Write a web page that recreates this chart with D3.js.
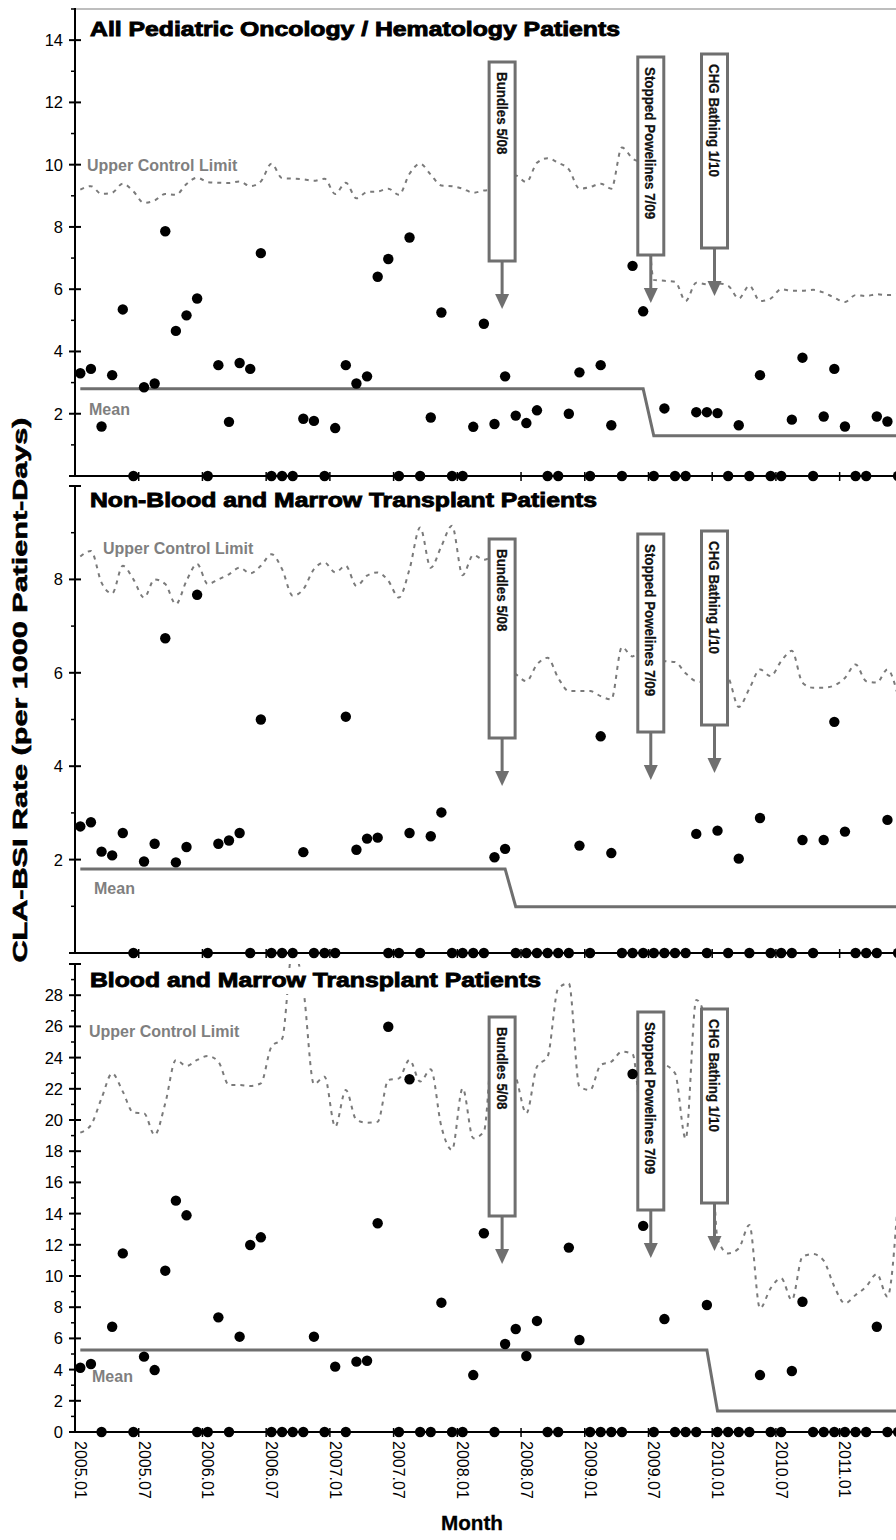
<!DOCTYPE html>
<html><head><meta charset="utf-8">
<script src="https://cdn.jsdelivr.net/npm/d3@7"></script>
<style>body{margin:0;background:#fff;overflow:hidden}svg{display:block}</style>
</head><body><svg id="c" width="896" height="1540"></svg>
<script>
const months = [
"2005.01","2005.02","2005.03","2005.04","2005.05","2005.06","2005.07","2005.08","2005.09","2005.10","2005.11","2005.12",
"2006.01","2006.02","2006.03","2006.04","2006.05","2006.06","2006.07","2006.08","2006.09","2006.10","2006.11","2006.12",
"2007.01","2007.02","2007.03","2007.04","2007.05","2007.06","2007.07","2007.08","2007.09","2007.10","2007.11","2007.12",
"2008.01","2008.02","2008.03","2008.04","2008.05","2008.06","2008.07","2008.08","2008.09","2008.10","2008.11","2008.12",
"2009.01","2009.02","2009.03","2009.04","2009.05","2009.06","2009.07","2009.08","2009.09","2009.10","2009.11","2009.12",
"2010.01","2010.02","2010.03","2010.04","2010.05","2010.06","2010.07","2010.08","2010.09","2010.10","2010.11","2010.12",
"2011.01","2011.02","2011.03","2011.04","2011.05","2011.06"];
const tickLabels = ["2005.01","2005.07","2006.01","2006.07","2007.01","2007.07","2008.01","2008.07","2009.01","2009.07","2010.01","2010.07","2011.01"];

// All Pediatric Oncology / Hematology
const allRate = [3.30,3.44,1.59,3.24,5.35,0,2.85,2.97,7.86,4.66,5.16,5.70,0,3.56,1.74,3.63,3.44,7.16,0,0,0,1.84,1.77,0,1.54,3.56,2.97,3.20,6.40,6.97,0,7.66,0,1.88,5.25,0,0,1.58,4.89,1.67,3.20,1.94,1.70,2.11,0,0,2.00,3.33,0,3.56,1.63,0,6.75,5.29,0,2.17,0,0,2.05,2.05,2.02,0,1.63,0,3.24,0,0,1.81,3.80,0,1.91,3.44,1.59,0,0,1.91,1.75,0];
const allUCL = [9.20,9.31,9.06,9.10,9.39,9.14,8.77,8.85,9.06,9.03,9.38,9.58,9.44,9.42,9.41,9.46,9.31,9.46,10.03,9.57,9.55,9.53,9.48,9.55,9.06,9.42,8.92,9.12,9.14,9.23,9.03,9.71,10.03,9.68,9.33,9.31,9.23,9.10,9.17,9.20,9.30,9.65,9.44,10.06,10.21,10.06,9.85,9.23,9.28,9.39,9.23,10.55,10.20,10.00,6.30,6.27,6.24,5.62,6.21,6.16,6.19,6.11,5.70,6.11,5.62,5.70,6.00,5.95,5.95,5.98,5.89,5.73,5.59,5.81,5.78,5.84,5.81,5.84];
const allMean = [{from:"2005.01",to:"2009.06",value:2.80},{from:"2009.07",to:"2011.06",value:1.29}];

// Non-Blood and Marrow Transplant
const nonRate = [2.71,2.80,2.17,2.09,2.57,0,1.96,2.34,6.74,1.94,2.27,7.67,0,2.34,2.41,2.57,0,5.00,0,0,0,2.16,0,0,0,5.06,2.21,2.45,2.47,0,0,2.57,0,2.50,3.01,0,0,0,0,2.05,2.23,0,0,0,0,0,0,2.30,0,4.64,2.14,0,0,0,0,0,0,0,2.55,0,2.62,0,2.02,0,2.89,0,0,0,2.42,0,2.42,4.95,2.60,0,0,0,2.85,0];
const nonUCL = [8.49,8.61,7.93,7.70,8.29,8.00,7.61,8.00,7.90,7.47,7.97,8.33,7.90,8.00,8.11,8.25,8.13,8.29,8.54,8.22,7.65,7.79,8.22,8.36,8.15,8.29,7.86,8.08,8.15,7.97,7.61,8.22,9.11,8.25,8.71,9.15,8.09,8.52,8.42,8.50,6.10,5.97,5.82,6.18,6.32,5.89,5.61,5.61,5.61,5.50,5.43,6.55,6.35,6.60,6.30,6.25,6.23,5.99,5.82,5.80,6.00,5.89,5.27,5.66,6.07,5.93,6.25,6.47,5.79,5.68,5.68,5.73,5.89,6.18,5.82,5.79,6.07,5.50];
const nonMean = [{from:"2005.01",to:"2008.05",value:1.80},{from:"2008.06",to:"2011.06",value:0.99}];

// Blood and Marrow Transplant
const bmtRate = [4.12,4.36,0,6.75,11.45,0,4.83,3.97,10.34,14.83,13.89,0,0,7.35,0,6.11,11.99,12.48,0,0,0,0,6.11,0,4.19,0,4.51,4.57,13.38,25.98,0,22.61,0,0,8.29,0,0,3.65,12.74,0,5.64,6.60,4.87,7.12,0,0,11.82,5.90,0,0,0,0,22.95,13.21,0,7.24,0,0,0,8.14,0,0,0,0,3.65,0,0,3.91,8.35,0,0,0,0,0,0,6.75,0,0];
const bmtUCL = [19.19,19.68,21.39,22.99,21.82,20.47,20.43,19.04,21.07,23.85,23.46,23.85,24.10,23.74,22.24,22.24,22.18,22.35,24.70,25.20,31.00,28.40,22.30,22.78,19.57,21.92,20.00,19.83,19.89,22.56,22.67,23.85,22.46,23.25,19.57,18.08,22.03,18.83,19.25,26.00,24.00,22.78,20.43,23.42,24.06,28.44,28.76,22.14,21.92,23.53,23.74,24.38,24.23,19.50,21.00,23.50,23.00,18.80,27.70,26.00,12.40,11.45,11.77,13.27,7.93,9.21,9.85,8.46,11.24,11.41,10.98,9.32,8.25,8.78,9.32,10.13,8.67,15.00];
const bmtMean = [{from:"2005.01",to:"2009.12",value:5.26},{from:"2010.01",to:"2011.06",value:1.35}];

const interventions = [
  {label:"Bundles 5/08", month:"2008.05", drop:53, len:199},
  {label:"Stopped Powelines 7/09", month:"2009.07", drop:48, len:198},
  {label:"CHG Bathing 1/10", month:"2010.01", drop:45, len:194}
];

const panels = [
  {title:"All Pediatric Oncology / Hematology Patients", rate:allRate, ucl:allUCL, mean:allMean,
   top:9, bottom:476, max:15, labels:[2,4,6,8,10,12,14], titleY:36, titleW:530,
   uclLab:[87,171], meanLab:[89,415], frame:true},
  {title:"Non-Blood and Marrow Transplant Patients", rate:nonRate, ucl:nonUCL, mean:nonMean,
   top:486, bottom:953, max:10, labels:[2,4,6,8], titleY:507, titleW:507,
   uclLab:[103,554], meanLab:[94,894], frame:false},
  {title:"Blood and Marrow Transplant Patients", rate:bmtRate, ucl:bmtUCL, mean:bmtMean,
   top:964, bottom:1432, max:30, labels:[0,2,4,6,8,10,12,14,16,18,20,22,24,26,28], titleY:987, titleW:451,
   uclLab:[89,1037], meanLab:[92,1382], frame:false}
];

const svg = d3.select("#c");
const FONT = "'Liberation Sans', Arial, Helvetica, sans-serif";
const xLeft = 75, step = 10.62;
const x = d3.scaleBand().domain(months).range([xLeft, xLeft + step*months.length]).paddingInner(0).paddingOuter(0);
const cx = m => x(m) + x.bandwidth()/2;
const GREY = "#6f6f6f";

panels.forEach((p, pi) => {
  const y = d3.scaleLinear().domain([0, p.max]).range([p.bottom, p.top]);
  const g = svg.append("g");
  const clipId = "clip" + pi;
  svg.append("clipPath").attr("id", clipId).append("rect")
    .attr("x", xLeft).attr("y", p.top).attr("width", 896 - xLeft + 20).attr("height", p.bottom - p.top);

  if (p.frame) {
    g.append("line").attr("x1", xLeft).attr("x2", 900).attr("y1", p.top).attr("y2", p.top)
      .attr("stroke", "#a8a8a8").attr("stroke-width", 1.5);
  }

  // UCL
  const uclLine = d3.line().x((d,i) => cx(months[i])).y(d => y(d)).curve(d3.curveMonotoneX);
  g.append("path").attr("d", uclLine(p.ucl)).attr("clip-path", `url(#${clipId})`)
    .attr("fill", "none").attr("stroke", "#7a7a7a").attr("stroke-width", 2).attr("stroke-dasharray", "4,5");

  // Mean
  const meanPts = [];
  p.mean.forEach(s => { meanPts.push([s.from, s.value]); meanPts.push([s.to, s.value]); });
  const meanLine = d3.line().x(d => cx(d[0])).y(d => y(d[1]));
  g.append("path").attr("d", meanLine(meanPts)).attr("fill", "none")
    .attr("stroke", GREY).attr("stroke-width", 3);

  // Y axis
  g.append("line").attr("x1", xLeft).attr("x2", xLeft).attr("y1", p.top - 1).attr("y2", p.bottom)
    .attr("stroke", "#000").attr("stroke-width", 2);
  const major = d3.range(0, p.max + 0.001, 2);
  const minor = d3.range(1, p.max + 0.001, 2);
  g.selectAll(null).data(major).enter().append("line")
    .attr("x1", xLeft - 6).attr("x2", xLeft + 6).attr("y1", d => y(d)).attr("y2", d => y(d))
    .attr("stroke", "#000").attr("stroke-width", 2);
  g.selectAll(null).data(minor).enter().append("line")
    .attr("x1", xLeft - 4).attr("x2", xLeft).attr("y1", d => y(d)).attr("y2", d => y(d))
    .attr("stroke", "#000").attr("stroke-width", 1.5);
  g.selectAll(null).data(p.labels).enter().append("text")
    .attr("x", 63).attr("y", d => y(d)).attr("text-anchor", "end").attr("dominant-baseline", "central")
    .attr("font-family", FONT).attr("font-size", 16.5).attr("fill", "#000").text(d => d);

  // X axis
  g.append("line").attr("x1", xLeft).attr("x2", 900).attr("y1", p.bottom).attr("y2", p.bottom)
    .attr("stroke", "#000").attr("stroke-width", 2);
  const tickMonths = months.filter((m, i) => i > 0 && i % 6 === 0);
  g.selectAll(null).data(tickMonths).enter().append("line")
    .attr("x1", d => x(d)).attr("x2", d => x(d)).attr("y1", p.bottom - 4).attr("y2", p.bottom + 5)
    .attr("stroke", "#000").attr("stroke-width", 1.5);

  // Interventions
  interventions.forEach(a => {
    const bx = cx(a.month) - 3;
    const bt = p.top + a.drop, bb = bt + a.len;
    const tip = bb + 48;
    g.append("line").attr("x1", bx).attr("x2", bx).attr("y1", bb).attr("y2", tip - 14)
      .attr("stroke", GREY).attr("stroke-width", 3);
    g.append("path").attr("d", `M${bx-7},${tip-15}L${bx+7},${tip-15}L${bx},${tip}Z`).attr("fill", GREY);
    g.append("rect").attr("x", bx - 13).attr("y", bt).attr("width", 26).attr("height", a.len)
      .attr("fill", "#fff").attr("stroke", GREY).attr("stroke-width", 3);
    g.append("text").attr("transform", `translate(${bx},${bt + 10}) rotate(90) scale(0.88,1)`)
      .attr("text-anchor", "start").attr("dominant-baseline", "central")
      .attr("font-family", FONT).attr("font-weight", "bold").attr("font-size", 15.2)
      .attr("stroke", "#111").attr("stroke-width", 0.25)
      .attr("fill", "#111").text(a.label);
  });

  // Title with white background
  g.append("rect").attr("x", 88).attr("y", p.titleY - 18).attr("width", p.titleW + 4).attr("height", 25).attr("fill", "#fff");
  g.append("text").attr("x", 90).attr("y", p.titleY)
    .attr("font-family", FONT).attr("font-weight", "bold").attr("font-size", 20.5)
    .attr("textLength", p.titleW).attr("lengthAdjust", "spacingAndGlyphs")
    .attr("stroke", "#000").attr("stroke-width", 0.9).attr("fill", "#000").text(p.title);

  // Labels
  g.append("text").attr("x", p.uclLab[0]).attr("y", p.uclLab[1])
    .attr("font-family", FONT).attr("font-weight", "bold").attr("font-size", 16).attr("fill", "#7f7f7f")
    .text("Upper Control Limit");
  g.append("text").attr("x", p.meanLab[0]).attr("y", p.meanLab[1])
    .attr("font-family", FONT).attr("font-weight", "bold").attr("font-size", 16).attr("fill", "#7f7f7f")
    .text("Mean");

  // Dots
  g.selectAll(null).data(p.rate).enter().append("circle")
    .attr("cx", (d, i) => cx(months[i])).attr("cy", d => y(d)).attr("r", 5.2).attr("fill", "#000");

  // X tick labels on last panel
  if (pi === panels.length - 1) {
    g.selectAll(null).data(tickLabels).enter().append("text")
      .attr("transform", d => `translate(${cx(d)},${p.bottom + 9}) rotate(90)`)
      .attr("text-anchor", "start").attr("dominant-baseline", "central")
      .attr("font-family", FONT).attr("font-size", 16).attr("fill", "#000").text(d => d);
  }
});

svg.append("text").attr("transform", "translate(19,690) rotate(-90)")
  .attr("text-anchor", "middle").attr("dominant-baseline", "central")
  .attr("font-family", FONT).attr("font-weight", "bold").attr("font-size", 21)
  .attr("textLength", 545).attr("lengthAdjust", "spacingAndGlyphs")
  .attr("stroke", "#000").attr("stroke-width", 0.6)
  .text("CLA-BSI Rate (per 1000 Patient-Days)");

svg.append("text").attr("x", 472).attr("y", 1530).attr("text-anchor", "middle")
  .attr("font-family", FONT).attr("font-weight", "bold").attr("font-size", 21)
  .attr("textLength", 62).attr("lengthAdjust", "spacingAndGlyphs")
  .attr("stroke", "#000").attr("stroke-width", 0.3)
  .text("Month");
</script></body></html>
